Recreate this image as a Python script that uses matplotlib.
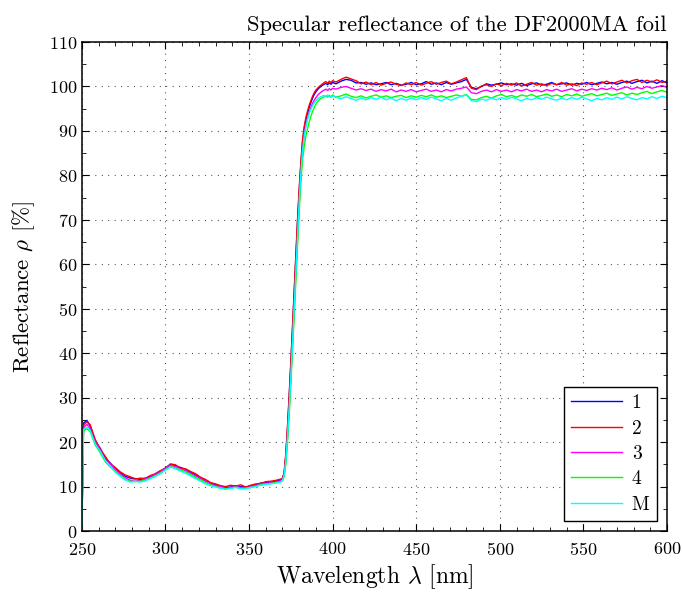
# coding:utf_8
import numpy as np
import matplotlib
matplotlib.use("Agg")
import matplotlib.pyplot as plt
from matplotlib.ticker import MultipleLocator

# wavelength grids [nm]: UV part, absorption edge, plateau
wl = np.concatenate([[250, 251, 253, 255], np.arange(258, 370, 3),
                     np.arange(370, 401, 1), np.arange(402, 601, 3)])

labels = ["1", "2", "3", "4", "M"]
colors = ["#0000ff", "#ff0000", "#ff00ff", "#00ff00", "#00ffff"]

# reflectance [%]
r1 = [0.5, 24.3, 24.9, 23.6, 20.3, 18.6, 16.4, 15.3, 14.0, 13.1, 12.3, 11.9, 11.8, 11.6,
      11.9, 12.3, 12.9, 13.5, 14.2, 15.0, 14.7, 14.3, 13.9, 13.2, 12.6, 12.0, 11.3, 10.8,
      10.4, 10.1, 9.8, 9.9, 10.2, 10.0, 9.9, 10.1, 10.4, 10.8, 10.9, 11.0, 11.2, 11.5,
      # edge
      11.9, 13.0, 17.0, 23.0, 30.0, 37.5, 45.5, 53.5, 61.5, 69.5, 76.5, 82.5, 87.5, 90.5,
      92.5, 94.0, 95.3, 96.4, 97.4, 98.2, 98.8, 99.3, 99.7, 100.0, 100.3, 100.5, 100.7,
      100.4, 100.8, 100.5, 100.9,
      # plateau
      100.6, 101.2, 101.6, 101.4, 100.8, 100.9, 100.5, 100.8, 100.4, 100.6, 100.9, 100.4,
      100.7, 100.3, 100.5, 100.9, 100.4, 100.6, 101.1, 100.5, 100.8, 100.4, 100.9, 100.5,
      100.8, 101.1, 101.6, 99.8, 99.5, 100.0, 100.6, 100.3, 100.5, 100.8, 100.4, 100.6,
      100.3, 100.7, 100.2, 100.6, 100.8, 100.3, 100.5, 100.9, 100.4, 100.6, 100.8, 100.3,
      100.7, 100.5, 100.9, 100.4, 100.7, 101.0, 100.6, 100.9, 100.5, 100.9, 101.2, 100.7,
      101.1, 101.4, 100.8, 101.2, 100.7, 101.3, 100.8]
r2 = [0.4, 23.8, 24.6, 23.9, 20.6, 18.4, 16.8, 15.1, 14.3, 13.3, 12.6, 12.2, 11.7, 11.9,
      11.8, 12.5, 12.8, 13.6, 14.0, 15.1, 14.9, 14.1, 14.0, 13.4, 12.9, 12.1, 11.6, 10.9,
      10.6, 10.2, 10.0, 10.3, 10.1, 10.4, 9.9, 10.3, 10.6, 10.7, 11.1, 11.2, 11.4, 11.7,
      11.8, 13.2, 17.5, 23.5, 30.5, 38.0, 46.0, 54.0, 62.0, 70.0, 77.0, 83.0, 88.0, 91.0,
      93.0, 94.5, 95.8, 96.8, 97.8, 98.6, 99.2, 99.6, 100.0, 100.3, 100.6, 100.9, 101.1,
      100.7, 101.2, 100.9, 101.3,
      101.0, 101.6, 102.1, 101.7, 101.3, 100.6, 101.0, 100.4, 100.9, 100.3, 100.7, 101.0,
      100.5, 100.2, 100.8, 100.4, 100.9, 100.3, 100.7, 101.1, 100.5, 100.9, 101.2, 100.6,
      101.0, 101.5, 102.0, 99.6, 99.3, 100.1, 100.4, 100.0, 100.6, 100.2, 100.7, 100.3,
      100.8, 100.1, 100.5, 100.9, 100.3, 100.6, 100.2, 100.7, 100.4, 100.9, 100.3, 100.6,
      100.2, 100.8, 100.5, 100.9, 100.4, 100.8, 101.2, 100.6, 101.0, 101.4, 100.8, 101.3,
      101.6, 100.9, 101.4, 101.0, 101.5, 100.9, 101.2]
r3 = [0.3, 23.2, 24.0, 23.0, 20.0, 18.2, 16.1, 15.0, 13.8, 12.8, 12.0, 11.4, 11.5, 11.3,
      11.7, 12.1, 12.7, 13.3, 14.1, 14.8, 14.5, 14.0, 13.6, 13.0, 12.4, 11.8, 11.2, 10.6,
      10.2, 10.0, 9.6, 9.8, 10.0, 9.8, 9.7, 10.0, 10.2, 10.6, 10.7, 10.9, 11.0, 11.3,
      11.6, 12.6, 15.8, 21.0, 27.5, 34.5, 42.0, 50.0, 58.0, 66.0, 73.5, 80.0, 85.5, 89.0,
      91.3, 92.9, 94.2, 95.3, 96.2, 96.9, 97.5, 98.0, 98.4, 98.7, 99.0, 99.2, 99.4,
      99.1, 99.5, 99.2, 99.6,
      99.4, 99.8, 100.0, 99.6, 99.2, 99.5, 99.1, 99.4, 98.9, 99.3, 99.0, 99.4,
      98.8, 99.2, 98.9, 99.3, 98.8, 99.1, 99.4, 98.9, 99.2, 98.8, 99.3, 99.0,
      99.4, 99.6, 99.9, 98.6, 98.4, 98.9, 99.2, 98.8, 99.3, 98.9, 99.2, 98.8,
      99.3, 99.0, 99.4, 98.9, 99.2, 98.8, 99.3, 99.0, 99.4, 98.9, 99.2, 99.5,
      99.0, 99.4, 99.1, 99.5, 99.2, 99.6, 99.3, 99.7, 99.2, 99.6, 99.9, 99.4,
      99.8, 99.5, 100.0, 99.6, 99.9, 100.2, 99.8]
r4 = [0.3, 22.5, 23.0, 22.4, 19.4, 17.6, 15.6, 14.4, 13.4, 12.5, 11.6, 11.2, 11.1, 11.2,
      11.4, 11.9, 12.4, 13.0, 13.8, 14.5, 14.2, 13.7, 13.3, 12.7, 12.1, 11.5, 10.9, 10.4,
      10.0, 9.7, 9.5, 9.6, 9.9, 9.6, 9.6, 9.8, 10.1, 10.4, 10.6, 10.7, 10.9, 11.1,
      11.3, 12.2, 15.0, 20.0, 26.0, 33.0, 40.5, 48.5, 56.5, 64.5, 72.0, 78.5, 83.5, 86.5,
      88.8, 90.5, 92.0, 93.3, 94.4, 95.3, 96.0, 96.6, 97.0, 97.3, 97.5, 97.7, 97.9,
      97.6, 98.0, 97.7, 98.1,
      97.6, 97.9, 98.3, 97.8, 97.5, 97.9, 97.4, 97.8, 98.1, 97.6, 97.9, 97.5,
      97.8, 98.0, 97.5, 97.9, 97.6, 98.0, 97.7, 98.1, 97.6, 97.9, 97.5, 97.8,
      98.1, 97.8, 98.2, 97.1, 97.0, 97.5, 97.8, 97.4, 97.9, 98.2, 97.7, 98.0,
      97.6, 98.1, 97.8, 98.2, 97.7, 98.0, 98.3, 97.8, 98.1, 97.7, 98.2, 97.9,
      98.3, 97.8, 98.1, 98.4, 97.9, 98.2, 98.5, 98.0, 98.3, 98.6, 98.1, 98.5,
      98.2, 98.6, 98.9, 98.4, 98.8, 99.1, 98.7]
rM = [0.5, 22.8, 23.3, 22.6, 19.6, 17.9, 15.9, 14.6, 13.2, 12.3, 11.5, 11.0, 11.2, 11.0,
      11.3, 11.8, 12.3, 12.9, 13.7, 14.4, 14.0, 13.5, 13.0, 12.4, 11.8, 11.2, 10.6, 10.2,
      9.9, 9.6, 9.4, 9.6, 9.8, 9.5, 9.5, 9.8, 10.0, 10.3, 10.5, 10.6, 10.8, 11.0,
      11.4, 12.5, 15.7, 21.0, 27.5, 34.5, 42.5, 50.5, 58.5, 66.5, 74.0, 80.5, 85.5, 88.8,
      91.0, 92.6, 93.9, 94.9, 95.7, 96.3, 96.8, 97.2, 97.5, 97.7, 97.9, 98.0, 97.7,
      98.1, 97.8, 97.5, 97.9,
      97.6, 97.2, 97.7, 97.3, 96.9, 97.4, 97.0, 97.5, 97.1, 97.6, 97.0, 97.4,
      96.8, 97.3, 96.9, 97.4, 97.0, 97.5, 97.1, 97.6, 97.2, 96.8, 97.3, 96.9,
      97.4, 97.8, 98.1, 96.8, 96.6, 97.2, 96.9, 97.4, 97.0, 97.5, 97.1, 97.6,
      97.2, 96.8, 97.3, 97.0, 97.5, 97.1, 97.6, 97.2, 96.9, 97.4, 97.0, 97.5,
      97.1, 97.6, 97.2, 96.8, 97.3, 97.0, 97.5, 97.1, 97.6, 97.2, 97.7, 97.3,
      97.0, 97.5, 97.2, 97.7, 97.3, 97.8, 97.5]

plt.rcParams["font.family"] = "serif"
plt.rcParams["font.serif"] = ["cmr10"]
plt.rcParams["mathtext.fontset"] = "cm"
plt.rcParams["axes.formatter.use_mathtext"] = True

fig = plt.figure(figsize=(6.82, 5.92), dpi=100)
ax = fig.add_axes([0.120, 0.103, 0.858, 0.826])

for y, c, lab in zip([r1, r2, r3, r4, rM], colors, labels):
    ax.plot(wl, y, color=c, lw=1.0, label=lab)

ax.set_xlim(250, 600)
ax.set_ylim(0, 110)
ax.xaxis.set_major_locator(MultipleLocator(50))
ax.xaxis.set_minor_locator(MultipleLocator(10))
ax.yaxis.set_major_locator(MultipleLocator(10))
ax.yaxis.set_minor_locator(MultipleLocator(5))
ax.tick_params(which="both", direction="in", top=True, right=True, labelsize=13)
ax.tick_params(axis="x", which="major", pad=7)
ax.tick_params(which="major", length=5, width=0.8)
ax.tick_params(which="minor", length=3, width=0.6)
for s in ax.spines.values():
    s.set_linewidth(1.1)
ax.grid(True, which="major", color="0.2", linestyle=(0, (0.8, 5)), lw=0.8)

ax.set_xlabel(r"Wavelength $\lambda$ [nm]", fontsize=17, labelpad=3)
ax.set_ylabel(r"Reflectance $\rho$ [%]", fontsize=16.5, labelpad=8)
fig.text(0.978, 0.958, "Specular reflectance of the DF2000MA foil",
         ha="right", va="center", fontsize=16.2)

leg = ax.legend(loc="lower right", fontsize=14, handlelength=2.6, fancybox=False,
                edgecolor="k", framealpha=1, borderaxespad=0.5, labelspacing=0.38,
                handletextpad=0.5)
leg.get_frame().set_linewidth(1.0)

plt.savefig("out.png", dpi=100)
